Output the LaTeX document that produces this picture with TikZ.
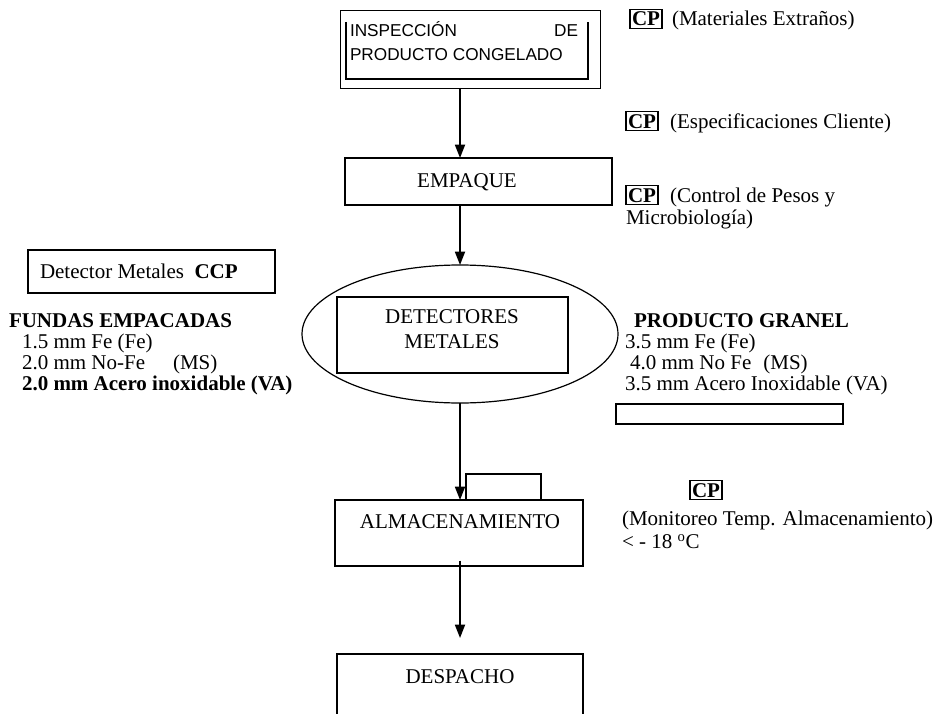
\documentclass[tikz,border=0pt]{standalone}
\usepackage{fontspec}
\setmainfont{Liberation Serif}
\newfontfamily\arialfont{Liberation Sans}
\usetikzlibrary{arrows.meta,shapes.geometric}
\begin{document}
\begin{tikzpicture}[x=0.75pt,y=-0.75pt,
  every node/.style={inner sep=0pt, outer sep=0pt},
  body/.style={font=\fontsize{15.75}{15.75}\selectfont},
  txt/.style={body, anchor=base west},
  boldtxt/.style={anchor=base west, font=\fontsize{15.75}{15.75}\selectfont\bfseries},
  mid/.style={body, anchor=base},
  sans/.style={anchor=base west, font=\arialfont\fontsize{12.9}{12.9}\selectfont},
  stepbox/.style={draw, line width=0.9pt, anchor=north west},
  cpbox/.style={draw, line width=0.9pt, inner xsep=1.5pt, inner ysep=1.8pt,
    font=\fontsize{15.75}{15.75}\selectfont\bfseries, anchor=base west},
  flow/.style={line width=1.3pt, -{Triangle[length=10pt,width=7.5pt]}},
]
\useasboundingbox (0,0) rectangle (937,713);
\clip (0,0) rectangle (937,713);
\coordinate (axis) at (460,0);

% --- main process chain ---
\node[stepbox, line width=0.7pt, minimum width=260*0.75pt, minimum height=78*0.75pt] (insp) at (340,10) {};
\draw[line width=1.6pt] (346,22) -- (346,79) -- (588,79) -- (588,22);
\node[sans] (insp1) at (350,37) {INSPECCIÓN};
\node[sans, anchor=base east] (insp2) at (578,37) {DE};
\node[sans] (insp3) at (350,61) {PRODUCTO CONGELADO};

\node[stepbox, minimum width=267*0.75pt, minimum height=47*0.75pt] (emp) at (345,158) {};
\node[mid] (empl) at (467,187) {EMPAQUE};

\node[draw, ellipse, line width=0.9pt, minimum width=316*0.75pt, minimum height=138*0.75pt] (det) at (460,334) {};
\node[stepbox, minimum width=231*0.75pt, minimum height=76*0.75pt] (detin) at (337,297) {};
\node[mid] (detl1) at (452,323) {DETECTORES};
\node[mid] (detl2) at (452,348) {METALES};

\node[stepbox, minimum width=75*0.75pt, minimum height=26*0.75pt] (almtab) at (466,474) {};
\node[stepbox, minimum width=248*0.75pt, minimum height=66*0.75pt] (alm) at (335,500) {};
\node[mid] (alml) at (460,528) {ALMACENAMIENTO};

\node[stepbox, minimum width=246*0.75pt, minimum height=90*0.75pt] (desp) at (337,654) {};
\node[mid] (despl) at (460,683) {DESPACHO};

\draw[flow] (insp.south -| axis) -- (emp.north -| axis);
\draw[flow] (emp.south -| axis) -- (det.north);
\draw[flow] (det.south) -- (alm.north -| axis);
\draw[flow, shorten <=-4pt, shorten >=12pt] (alm.south -| axis) -- (desp.north -| axis);

% --- control points on the right ---
\node[cpbox] (cp1) at (630,26) {CP};
\node[txt] (cp1l) at (672,26) {(Materiales Extraños)};
\node[cpbox] (cp2) at (626,128) {CP};
\node[txt] (cp2l) at (670,128) {(Especificaciones Cliente)};
\node[cpbox] (cp3) at (626,202) {CP};
\node[txt] (cp3l) at (670,202) {(Control de Pesos y};
\node[txt] (cp3m) at (626,224) {Microbiología)};
\node[cpbox] (cp4) at (690,497) {CP};
\node[txt] (cp4l) at (622,525) {(Monitoreo Temp. Almacenamiento)};
\node[txt] (cp4m) at (622,548) {< - 18 \textsuperscript{o}C};

% --- metal detector limits ---
\node[stepbox, minimum width=247*0.75pt, minimum height=43*0.75pt] (ccp) at (28,250) {};
\node[txt] (ccpl) at (40,278) {Detector Metales\ \ \textbf{CCP}};
\node[boldtxt] (fun) at (9,327) {FUNDAS EMPACADAS};
\node[txt] (fun1) at (22,348) {1.5 mm Fe (Fe)};
\node[txt] (fun2) at (22,369) {2.0 mm No-Fe\hspace{21pt}(MS)};
\node[boldtxt] (fun3) at (22,390) {2.0 mm Acero inoxidable (VA)};

\node[boldtxt] (gra) at (634,327) {PRODUCTO GRANEL};
\node[txt] (gra1) at (625,348) {3.5 mm Fe (Fe)};
\node[txt] (gra2) at (630,369) {4.0 mm No Fe\hspace{9pt}(MS)};
\node[txt] (gra3) at (625,390) {3.5 mm Acero Inoxidable (VA)};
\node[stepbox, minimum width=227*0.75pt, minimum height=20*0.75pt] (grabox) at (616,404) {};
\end{tikzpicture}
\end{document}
